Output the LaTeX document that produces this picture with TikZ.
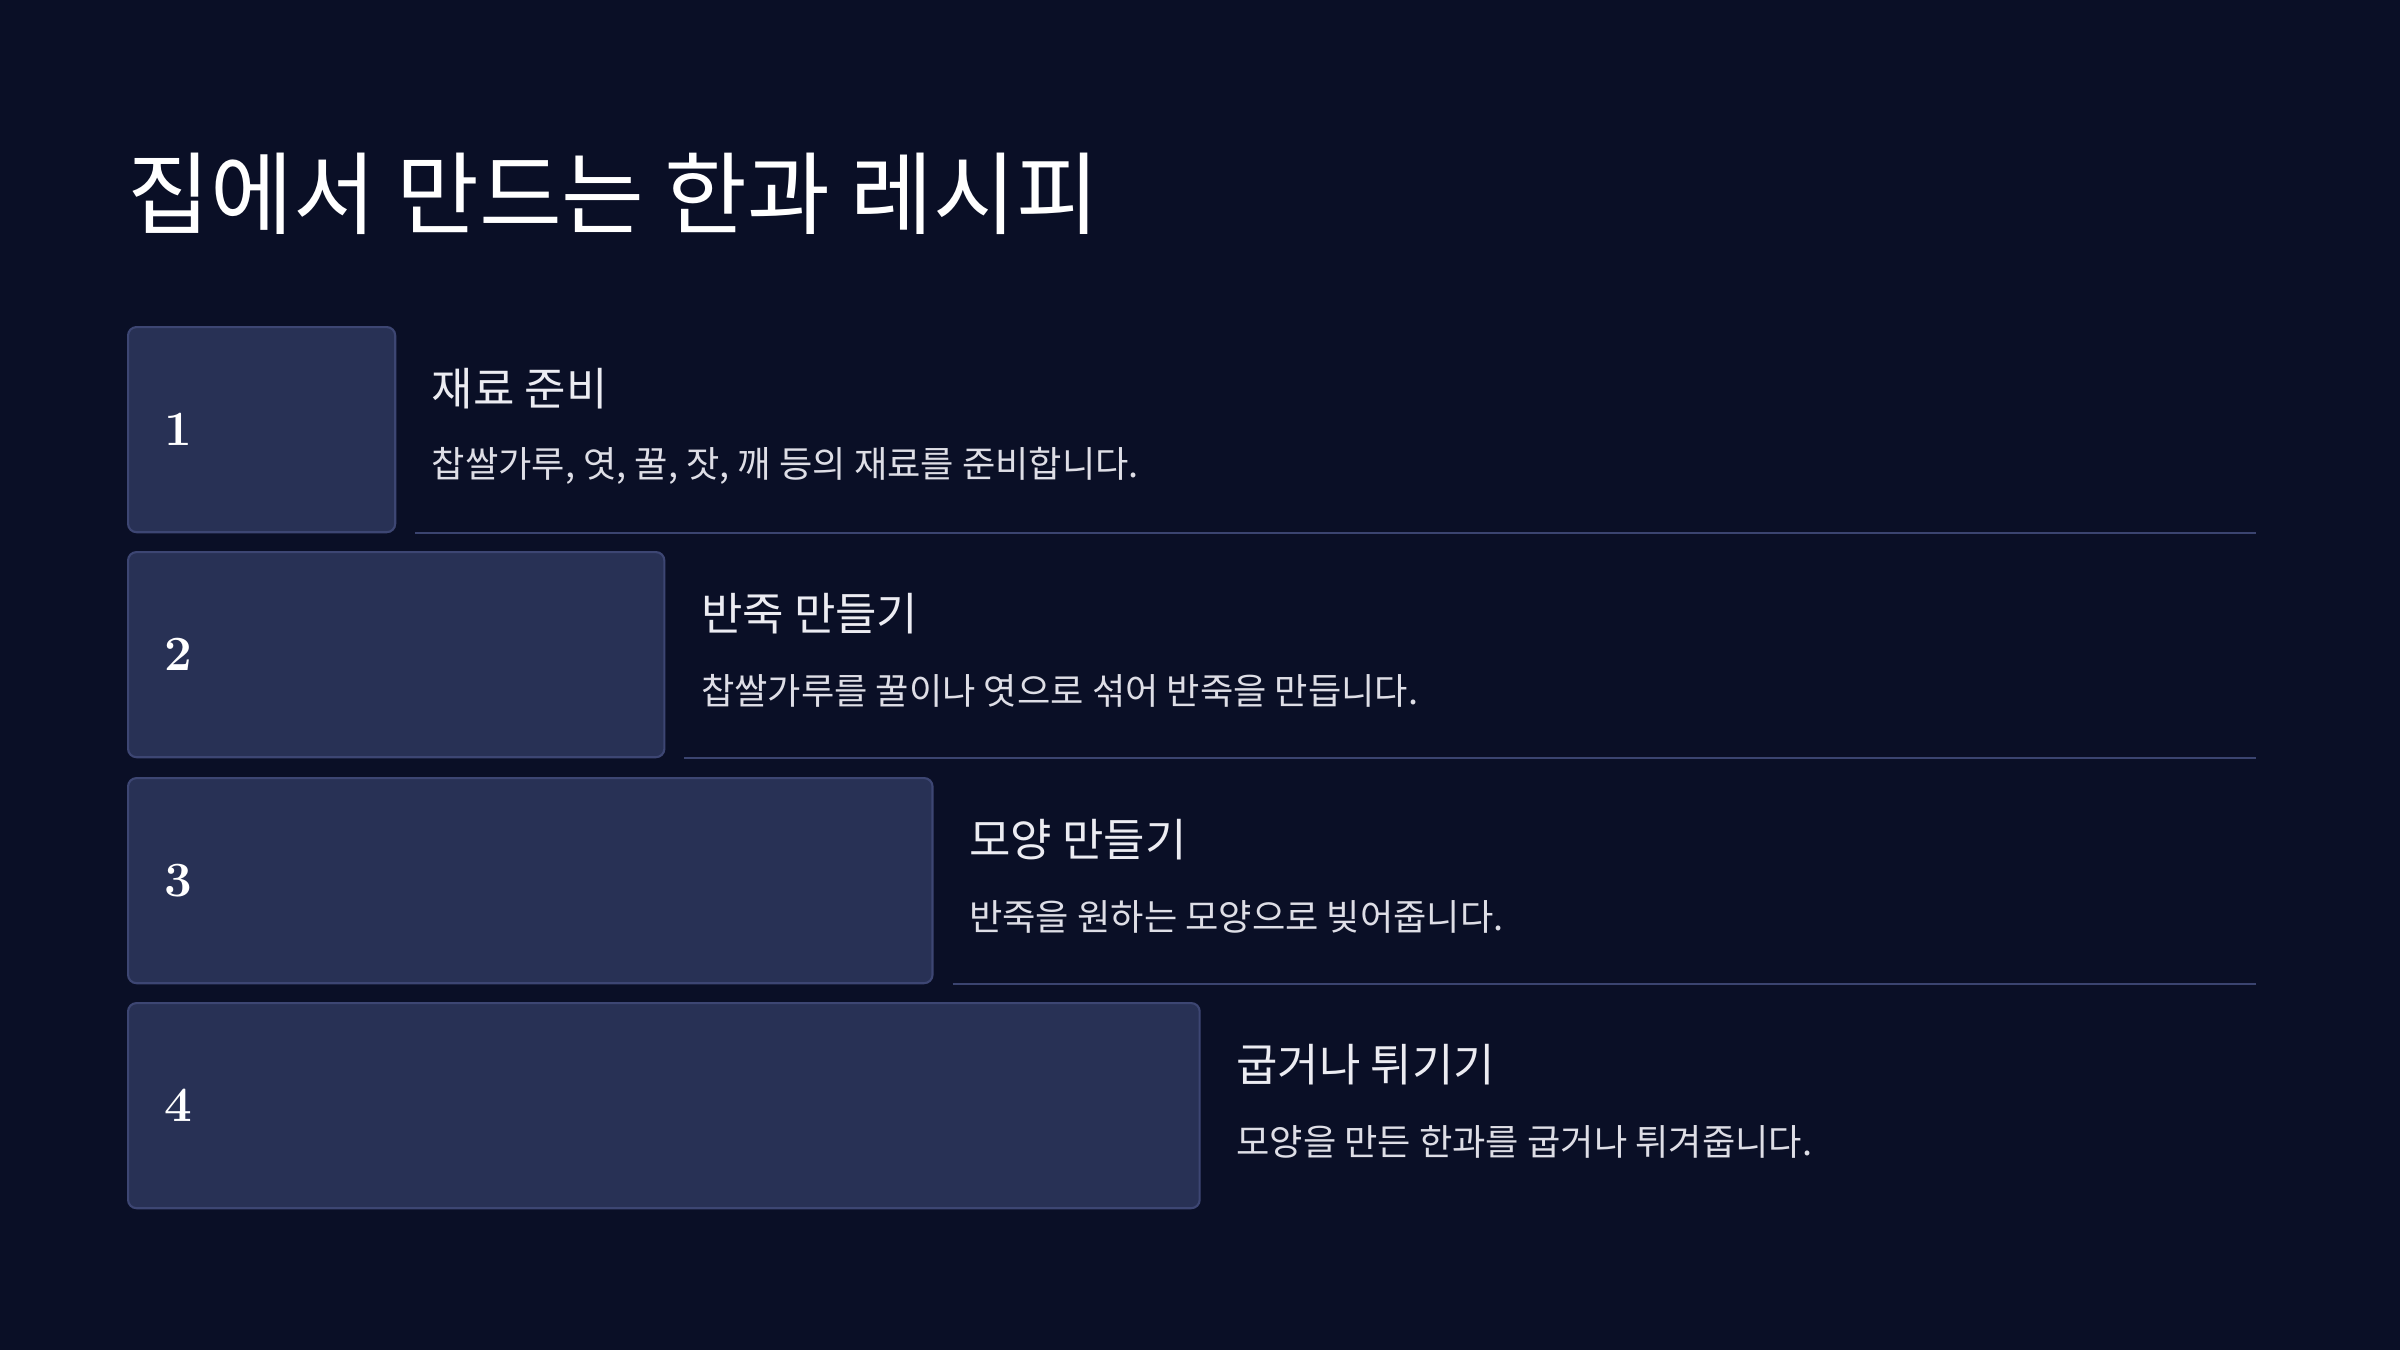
\documentclass[tikz,border=0pt]{standalone}
\usepackage{fontspec}
\usepackage{tikz}
\newfontfamily\kr{Noto Sans CJK KR}
\definecolor{bgnavy}{HTML}{0A0F26}
\definecolor{boxfill}{HTML}{283155}
\definecolor{boxedge}{HTML}{3D4673}
\definecolor{rulecol}{HTML}{3B4470}
\definecolor{headtxt}{HTML}{ECECF2}
\definecolor{bodytxt}{HTML}{DEDEE6}

\begin{document}
\begin{tikzpicture}[x=0.01cm, y=-0.01cm, inner sep=0pt,
                    stepbox/.style = {draw=boxedge, fill=boxfill, line width=0.6pt, rounded corners=2.4pt, anchor=north west, minimum height=2.05cm},
                    num/.style = {anchor=west, text=white, font=\bfseries\fontsize{14}{16}\selectfont},
                    head/.style = {anchor=west, text=headtxt, font=\kr\fontsize{12.8}{15}\selectfont},
                    body/.style = {anchor=west, text=bodytxt, font=\kr\fontsize{10.3}{12}\selectfont},
                    sep/.style = {draw=rulecol, line width=0.6pt}]
                    \fill[bgnavy] (0,0) rectangle (2400,1350);
                    \useasboundingbox (0,0) rectangle (2400,1350);
                    \node[anchor=west, text=white, font=\kr\fontsize{25.6}{30}\selectfont] (title) at (127,194) {집에서 만드는 한과 레시피};
                    \coordinate (rgt) at (2256,0);
                    \node[stepbox, minimum width=2.67cm] (b1) at (127,326) {};
                    \node[stepbox, minimum width=5.36cm] (b2) at (127,551) {};
                    \node[stepbox, minimum width=8.04cm] (b3) at (127,777) {};
                    \node[stepbox, minimum width=10.71cm] (b4) at (127,1002) {};
                    \node[num] (n1) at ([xshift=0.37cm]b1.west) {1};
                    \node[num] (n2) at ([xshift=0.37cm]b2.west) {2};
                    \node[num] (n3) at ([xshift=0.37cm]b3.west) {3};
                    \node[num] (n4) at ([xshift=0.37cm]b4.west) {4};
                    \node[head] (h1) at ([xshift=0.35cm, yshift=-0.63cm]b1.north east) {재료 준비};
                    \node[body] (t1) at ([xshift=0.35cm, yshift=-1.40cm]b1.north east) {찹쌀가루, 엿, 꿀, 잣, 깨 등의 재료를 준비합니다.};
                    \node[head] (h2) at ([xshift=0.35cm, yshift=-0.63cm]b2.north east) {반죽 만들기};
                    \node[body] (t2) at ([xshift=0.35cm, yshift=-1.40cm]b2.north east) {찹쌀가루를 꿀이나 엿으로 섞어 반죽을 만듭니다.};
                    \node[head] (h3) at ([xshift=0.35cm, yshift=-0.63cm]b3.north east) {모양 만들기};
                    \node[body] (t3) at ([xshift=0.35cm, yshift=-1.40cm]b3.north east) {반죽을 원하는 모양으로 빚어줍니다.};
                    \node[head] (h4) at ([xshift=0.35cm, yshift=-0.63cm]b4.north east) {굽거나 튀기기};
                    \node[body] (t4) at ([xshift=0.35cm, yshift=-1.40cm]b4.north east) {모양을 만든 한과를 굽거나 튀겨줍니다.};
                    \draw[sep] ([xshift=0.19cm]b1.south east) -- (b1.south east -| rgt);
                    \draw[sep] ([xshift=0.19cm]b2.south east) -- (b2.south east -| rgt);
                    \draw[sep] ([xshift=0.19cm]b3.south east) -- (b3.south east -| rgt);
                \end{tikzpicture}
\end{document}
